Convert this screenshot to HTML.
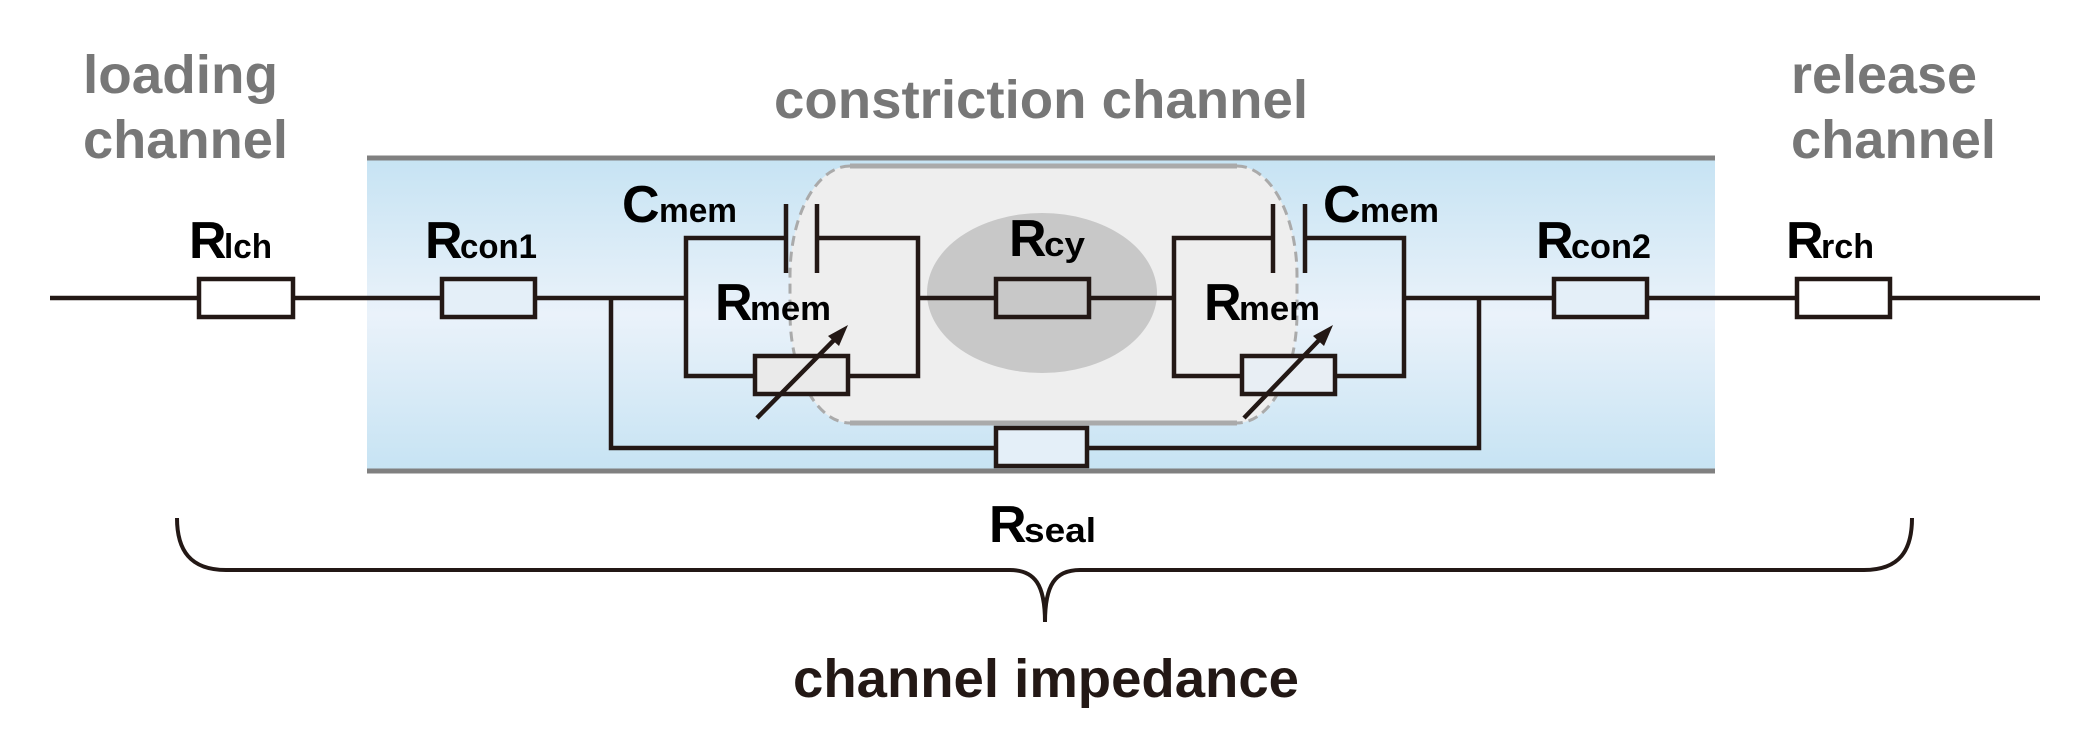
<!DOCTYPE html>
<html><head><meta charset="utf-8"><style>
html,body{margin:0;padding:0;background:#fff;width:2082px;height:746px;overflow:hidden}
svg{display:block}
text{font-family:"Liberation Sans",Arial,sans-serif;font-weight:bold}
</style></head><body>
<svg width="2082" height="746" viewBox="0 0 2082 746" xmlns="http://www.w3.org/2000/svg">
<defs>
<linearGradient id="bg" x1="0" y1="0" x2="0" y2="1">
<stop offset="0" stop-color="#c6e3f3"/><stop offset="0.5" stop-color="#eaf2fa"/><stop offset="1" stop-color="#c6e3f3"/>
</linearGradient>
</defs>
<!-- channel -->
<rect x="367" y="157" width="1348" height="315" fill="url(#bg)"/>
<line x1="367" y1="158" x2="1715" y2="158" stroke="#808080" stroke-width="5"/>
<line x1="367" y1="471" x2="1715" y2="471" stroke="#808080" stroke-width="5"/>
<!-- cell -->
<path d="M850 166 L1237 166 A60 110 0 0 1 1297 276 L1297 313 A60 110 0 0 1 1237 423 L850 423 A60 110 0 0 1 790 313 L790 276 A60 110 0 0 1 850 166 Z" fill="#eeeeee"/>
<path d="M850 166 A60 110 0 0 0 790 276 L790 313 A60 110 0 0 0 850 423 M1237 166 A60 110 0 0 1 1297 276 L1297 313 A60 110 0 0 1 1237 423" fill="none" stroke="#aaaaaa" stroke-width="3" stroke-dasharray="10,6"/>
<line x1="850" y1="166" x2="1237" y2="166" stroke="#aaaaaa" stroke-width="5"/>
<line x1="850" y1="423" x2="1237" y2="423" stroke="#aaaaaa" stroke-width="5"/>
<ellipse cx="1042" cy="293" rx="115" ry="80" fill="#c8c8c8"/>
<!-- wires -->
<g stroke="#231815" stroke-width="4.5" fill="none">
<line x1="50" y1="298" x2="686" y2="298"/>
<line x1="918" y1="298" x2="1174" y2="298"/>
<line x1="1404" y1="298" x2="2040" y2="298"/>
<polyline points="611,298 611,448 1479,448 1479,298"/>
<!-- left RC -->
<polyline points="786,238 686,238 686,376 755,376"/>
<polyline points="817,238 918,238 918,376 848,376"/>
<line x1="786" y1="204" x2="786" y2="273"/>
<line x1="817" y1="204" x2="817" y2="273"/>
<!-- right RC -->
<polyline points="1273,238 1174,238 1174,376 1242,376"/>
<polyline points="1305,238 1404,238 1404,376 1335,376"/>
<line x1="1273" y1="204" x2="1273" y2="273"/>
<line x1="1305" y1="204" x2="1305" y2="273"/>
</g>
<!-- resistors -->
<g stroke="#231815" stroke-width="4.5">
<rect x="199" y="279" width="94" height="38" fill="#ffffff"/>
<rect x="442" y="279" width="93" height="38" fill="#e4eff8"/>
<rect x="996" y="279" width="93" height="38" fill="#c8c8c8"/>
<rect x="1554" y="279" width="93" height="38" fill="#e4eff8"/>
<rect x="1797" y="279" width="93" height="38" fill="#ffffff"/>
<rect x="996" y="428" width="91" height="38" fill="#e4eff8"/>
<rect x="755" y="356" width="93" height="38" fill="#eaeaea"/>
<rect x="1242" y="356" width="93" height="38" fill="#e8eef4"/>
<line x1="757" y1="418" x2="840" y2="334"/>
<line x1="1244" y1="418" x2="1325" y2="334"/>
</g>
<polygon points="848,325 828,336 839,346" fill="#231815"/>
<polygon points="1333,325 1313,336 1324,346" fill="#231815"/>
<!-- gray titles -->
<g fill="#777777" font-size="54">
<text x="83" y="93" textLength="195" lengthAdjust="spacingAndGlyphs">loading</text>
<text x="83" y="158" textLength="205" lengthAdjust="spacingAndGlyphs">channel</text>
<text x="774" y="118" textLength="534" lengthAdjust="spacingAndGlyphs">constriction channel</text>
<text x="1791" y="93" textLength="186" lengthAdjust="spacingAndGlyphs">release</text>
<text x="1791" y="158" textLength="205" lengthAdjust="spacingAndGlyphs">channel</text>
</g>
<!-- labels -->
<g fill="#000000">
<text x="189" y="258" font-size="52">R</text><text x="224" y="258" font-size="34" textLength="48" lengthAdjust="spacingAndGlyphs">lch</text>
<text x="425" y="258" font-size="52">R</text><text x="460" y="258" font-size="34" textLength="77" lengthAdjust="spacingAndGlyphs">con1</text>
<text x="622" y="222" font-size="52">C</text><text x="659" y="222" font-size="34" textLength="78" lengthAdjust="spacingAndGlyphs">mem</text>
<text x="715" y="320" font-size="52">R</text><text x="750" y="320" font-size="34" textLength="81" lengthAdjust="spacingAndGlyphs">mem</text>
<text x="1009" y="256" font-size="52">R</text><text x="1044" y="256" font-size="34" textLength="41" lengthAdjust="spacingAndGlyphs">cy</text>
<text x="1323" y="222" font-size="52">C</text><text x="1360" y="222" font-size="34" textLength="79" lengthAdjust="spacingAndGlyphs">mem</text>
<text x="1204" y="320" font-size="52">R</text><text x="1239" y="320" font-size="34" textLength="81" lengthAdjust="spacingAndGlyphs">mem</text>
<text x="1536" y="258" font-size="52">R</text><text x="1571" y="258" font-size="34" textLength="80" lengthAdjust="spacingAndGlyphs">con2</text>
<text x="1786" y="258" font-size="52">R</text><text x="1821" y="258" font-size="34" textLength="53" lengthAdjust="spacingAndGlyphs">rch</text>
<text x="989" y="542" font-size="52">R</text><text x="1024" y="542" font-size="34" textLength="72" lengthAdjust="spacingAndGlyphs">seal</text>
</g>
<!-- brace -->
<path d="M177 518 C177 550 190 570 226 570 L1010 570 C1035 570 1045 585 1045 622 C1045 585 1055 570 1080 570 L1864 570 C1900 570 1912 550 1912 518" fill="none" stroke="#231815" stroke-width="4"/>
<text x="793" y="697" font-size="54" fill="#231815" textLength="506" lengthAdjust="spacingAndGlyphs">channel impedance</text>
</svg>
</body></html>
